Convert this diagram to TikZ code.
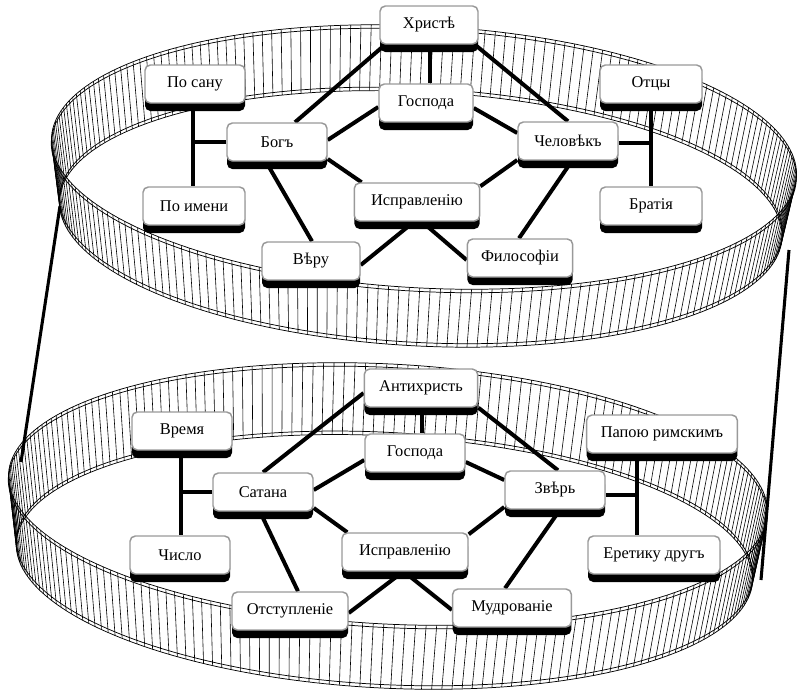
\documentclass[tikz,border=0pt]{standalone}
\usepackage{fontspec}
\setmainfont{Liberation Serif}
\usetikzlibrary{shadows,calc}
\pgfdeclarelayer{ringlayer}
\pgfdeclarelayer{linelayer}
\pgfsetlayers{ringlayer,linelayer,main}
% #1 cx, #2 cy, #3 a, #4 b, #5 h, #6 rotation, #7 bottom scale
\newcommand{\ringband}[7]{%
  \foreach \ang in {0,1.6,...,358.5}{%
    \draw[hatch] ({#1+(#3*cos(\ang)*cos(#6)-#4*sin(\ang)*sin(#6))},{#2+(#3*cos(\ang)*sin(#6)+#4*sin(\ang)*cos(#6))}) --
      ({#1+#7*(#3*cos(\ang)*cos(#6)-#4*sin(\ang)*sin(#6))-#5*sin(#6)},{#2+#7*(#3*cos(\ang)*sin(#6)+#4*sin(\ang)*cos(#6))+#5*cos(#6)});
  }%
  \foreach \rs/\rd in {1/0,1/3.5,#7/#5-3.5,#7/#5}{%
    \draw[rim] plot[domain=0:360,samples=181] ({#1+\rs*(#3*cos(\x)*cos(#6)-#4*sin(\x)*sin(#6))-(\rd)*sin(#6)},{#2+\rs*(#3*cos(\x)*sin(#6)+#4*sin(\x)*cos(#6))+(\rd)*cos(#6)}) -- cycle;
  }%
}
\begin{document}
\begin{tikzpicture}[x=0.75pt,y=-0.75pt,
  box/.style={draw=black!40, line width=1.1pt, rounded corners=4pt, fill=white,
    minimum height=28.5pt, minimum width=75pt, inner sep=1pt,
    font=\fontsize{12.3}{14}\selectfont,
    general shadow={fill=black, shadow yshift=-6pt}},
  link/.style={line width=3pt},
  side/.style={line width=2.3pt},
  hatch/.style={line width=0.45pt},
  rim/.style={line width=0.55pt}]
\useasboundingbox (0,0) rectangle (801,694);

% ---- nodes (top ring)
\node[box, minimum width=73.5pt] (hr) at (429,25) {Христѣ};
\node[box, minimum width=70.5pt] (gt) at (426,103) {Господа};
\node[box] (ps) at (195,84) {По сану};
\node[box] (bg) at (277,142) {Богъ};
\node[box, minimum width=76.5pt] (pi) at (194,206) {По имени};
\node[box, minimum width=76.5pt] (ot) at (651,84) {Отцы};
\node[box] (ch) at (568,141) {Человѣкъ};
\node[box, minimum width=76.5pt] (br) at (651,206) {Братія};
\node[box, minimum width=94pt] (it) at (417,202) {Исправленію};
\node[box, minimum width=73.5pt] (vr) at (311,261) {Вѣру};
\node[box, minimum width=79pt] (fl) at (520,258) {Философіи};

% ---- nodes (bottom ring)
\node[box, minimum width=85pt] (ah) at (421,388) {Антихристь};
\node[box] (gb) at (415,453) {Господа};
\node[box] (vm) at (182,431) {Время};
\node[box] (st) at (263,492) {Сатана};
\node[box] (cs) at (180,555) {Число};
\node[box, minimum width=113pt] (pp) at (662,434) {Папою римскимъ};
\node[box] (zv) at (555,490) {Звѣрь};
\node[box, minimum width=99pt] (er) at (654,555) {Еретику другъ};
\node[box, minimum width=94.5pt] (ib) at (405,552) {Исправленію};
\node[box, minimum width=87pt] (os) at (290,611) {Отступленіе};
\node[box, minimum width=89pt] (md) at (512,608) {Мудрованіе};

% ---- rings
\begin{pgfonlayer}{ringlayer}
\ringband{424}{157}{373}{131}{62}{3}{0.97}
\ringband{388}{494}{380}{130}{68}{3}{0.97}
\coordinate (l1) at (60,206);
\coordinate (l2) at (21,462);
\coordinate (r1) at (789,250);
\coordinate (r2) at (761,580);
\draw[side] (l1) -- (l2);
\draw[side] (r1) -- (r2);
\end{pgfonlayer}

% ---- connectors
\begin{pgfonlayer}{linelayer}
% top
\draw[link] ($(hr.south)+(-44,0)$) -- ($(bg.north)+(18,0)$);
\draw[link] ($(hr.south)+(1,0)$) -- ($(gt.north)+(4,0)$);
\draw[link] ($(hr.south)+(46,0)$) -- ($(ch.north)+(0,0)$);
\draw[link] ($(gt.west)+(0,4)$) -- ($(bg.east)+(0,-2)$);
\draw[link] ($(gt.east)+(0,5)$) -- ($(ch.west)+(0,-8)$);
\draw[link] ($(bg.east)+(0,17)$) -- ($(it.north west)+(8,0)$);
\draw[link] ($(ch.west)+(0,19)$) -- ($(it.north east)+(0,4)$);
\draw[link] ($(bg.south)+(-11,0)$) -- ($(vr.north)+(1,0)$);
\draw[link] ($(ch.south)+(4,0)$) -- ($(fl.north)+(-1,0)$);
\draw[link] ($(it.south)+(-3,0)$) -- ($(vr.east)+(0,4)$);
\draw[link] ($(it.south)+(5,0)$) -- ($(fl.west)+(0,2)$);
\draw[link] ($(ps.south)+(-2,0)$) -- ($(pi.north)+(-1,0)$);
\draw[link] (bg.west) -- ($(bg.west)+(-35,0)$);
\draw[link] (ot.south) -- (br.north);
\draw[link] ($(ch.east)+(0,2)$) -- ($(ch.east)+(33,2)$);
% bottom
\draw[link] ($(ah.west)+(0,5)$) -- (st.north);
\draw[link] ($(ah.south)+(1,0)$) -- ($(gb.north)+(7,0)$);
\draw[link] (ah.south east) -- ($(zv.north)+(3,0)$);
\draw[link] ($(gb.west)+(0,7)$) -- ($(st.east)+(0,-2)$);
\draw[link] ($(gb.east)+(0,9)$) -- ($(zv.west)+(0,-10)$);
\draw[link] ($(st.east)+(0,16)$) -- ($(ib.north west)+(6,0)$);
\draw[link] ($(zv.west)+(0,17)$) -- ($(ib.north east)+(0,2)$);
\draw[link] ($(st.south)+(-3,0)$) -- ($(os.north)+(8,0)$);
\draw[link] ($(zv.south)+(5,0)$) -- ($(md.north)+(-7,0)$);
\draw[link] ($(ib.south)+(-2,0)$) -- ($(os.east)+(0,2)$);
\draw[link] ($(ib.south)+(-1,0)$) -- ($(md.west)+(0,2)$);
\draw[link] ($(vm.south)+(-1,0)$) -- ($(cs.north)+(1,0)$);
\draw[link] (st.west) -- ($(st.west)+(-32,0)$);
\draw[link] ($(pp.south)+(-25,0)$) -- ($(er.north)+(-17,0)$);
\draw[link] ($(zv.east)+(0,5)$) -- ($(zv.east)+(32,5)$);
\end{pgfonlayer}
\end{tikzpicture}
\end{document}
